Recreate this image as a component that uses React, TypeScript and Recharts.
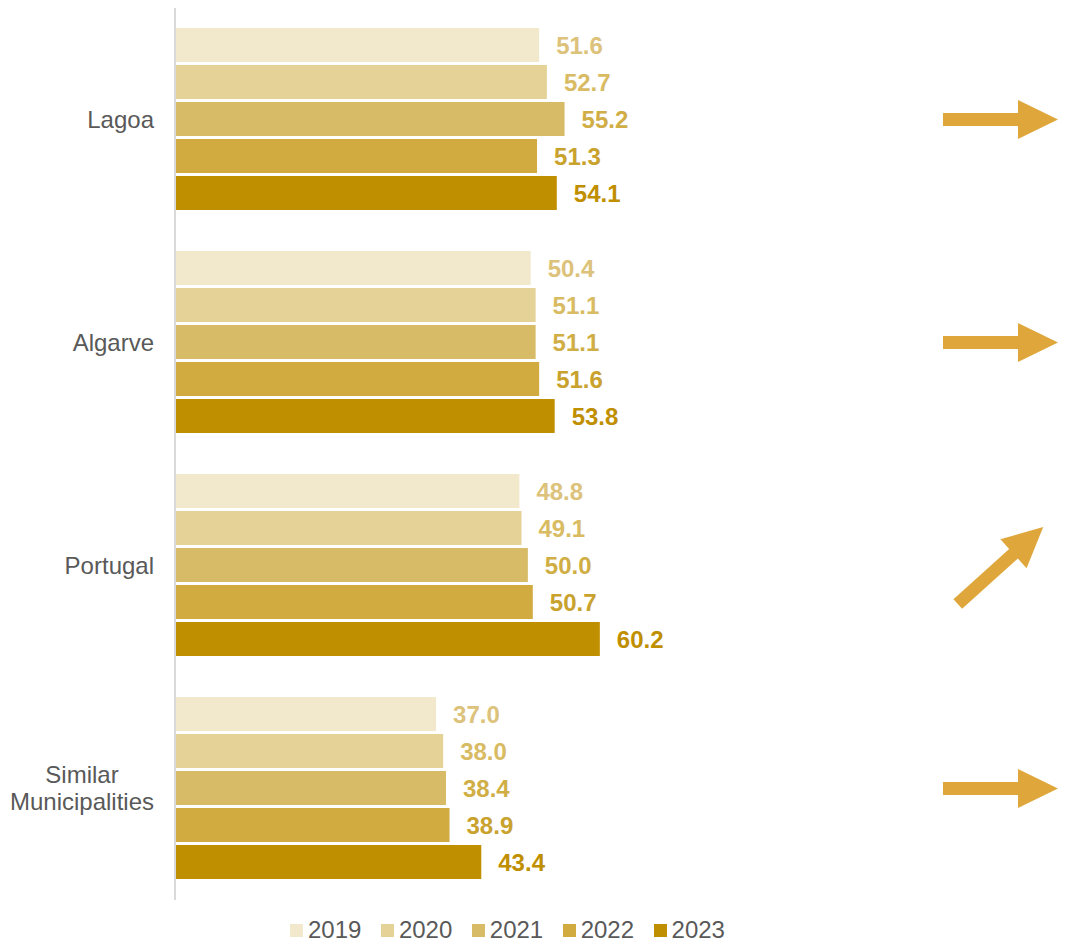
import React from "react";
import { BarChart, Bar, XAxis, YAxis, LabelList, Legend } from "recharts";

const categories = ["Lagoa", "Algarve", "Portugal", "Similar Municipalities"];
const years = ["2019", "2020", "2021", "2022", "2023"];
const v2019 = [51.6, 50.4, 48.8, 37.0];
const v2020 = [52.7, 51.1, 49.1, 38.0];
const v2021 = [55.2, 51.1, 50.0, 38.4];
const v2022 = [51.3, 51.6, 50.7, 38.9];
const v2023 = [54.1, 53.8, 60.2, 43.4];
const trends = ["flat", "flat", "up", "flat"];

const barColors = ["#F2E8CC", "#E5D296", "#D8BB66", "#D1AA40", "#C08F00"];
const labelColors = ["#DCC27A", "#D8BB62", "#D0AE45", "#C9A22E", "#BF8F00"];
const arrowColor = "#DFA73B";
const textGray = "#595959";
const FONT = "Arial, 'Liberation Sans', sans-serif";

const seriesValues = [v2019, v2020, v2021, v2022, v2023];
const data = categories.map((c, i) => {
  const row: any = { name: c, trend: trends[i] };
  years.forEach((y, k) => (row[y] = seriesValues[k][i]));
  return row;
});

const CategoryTick = (props: any) => {
  const { x, y, payload } = props;
  const text: string = payload.value;
  const lines = text.split(" ");
  if (lines.length === 1) {
    return (
      <text x={x - 21} y={y} dy="0.35em" textAnchor="end" fill={textGray} fontSize={24} fontFamily={FONT}>
        {text}
      </text>
    );
  }
  const lh = 27;
  const startY = y - ((lines.length - 1) * lh) / 2;
  return (
    <text x={x - 93} y={startY} textAnchor="middle" fill={textGray} fontSize={24} fontFamily={FONT}>
      {lines.map((l, i) => (
        <tspan key={i} x={x - 93} y={startY + i * lh} dy="0.35em">
          {l}
        </tspan>
      ))}
    </text>
  );
};

const ArrowTick = (props: any) => {
  const { x, y, index } = props;
  const trend = trends[index];
  const cx = x + 331.5;
  const angle = trend === "up" ? -42 : trend === "down" ? 42 : 0;
  const d = "M -57.5 -6.5 L 17.5 -6.5 L 17.5 -19.5 L 57.5 0 L 17.5 19.5 L 17.5 6.5 L -57.5 6.5 Z";
  return <path d={d} fill={arrowColor} transform={`translate(${cx},${y}) rotate(${angle})`} />;
};

const LegendContent = () => (
  <div style={{ display: "flex", marginLeft: 282, paddingTop: 17, fontFamily: FONT, fontSize: 24, color: textGray }}>
    {years.map((y, i) => (
      <div key={y} style={{ display: "flex", alignItems: "center", marginRight: 19.5, lineHeight: "26px" }}>
        <span style={{ display: "inline-block", width: 13, height: 13, background: barColors[i], marginRight: 5 }} />
        <span>{y}</span>
      </div>
    ))}
  </div>
);

export default function App() {
  return (
    <div style={{ width: 1056, height: 933 }}>
      <BarChart
        width={1056}
        height={933}
        data={data}
        layout="vertical"
        margin={{ top: 0, right: 0, bottom: 0, left: 0 }}
        barCategoryGap="9%"
        barGap={3}
      >
        <XAxis type="number" domain={[0, 70]} hide />
        <YAxis
          yAxisId="left"
          type="category"
          dataKey="name"
          width={167}
          tickLine={false}
          tickSize={0}
          tickMargin={0}
          axisLine={{ stroke: "#D9D9D9", strokeWidth: 2 }}
          tick={<CategoryTick />}
          interval={0}
        />
        <YAxis
          yAxisId="right"
          orientation="right"
          type="category"
          dataKey="name"
          width={395}
          tickLine={false}
          tickSize={0}
          tickMargin={0}
          axisLine={false}
          tick={<ArrowTick />}
          interval={0}
        />
        <Legend verticalAlign="bottom" height={41} content={<LegendContent />} wrapperStyle={{ left: 0, width: 1056 }} />
        {years.map((y, i) => (
          <Bar key={y} dataKey={y} yAxisId="left" fill={barColors[i]} isAnimationActive={false}>
            <LabelList
              dataKey={y}
              position="right"
              offset={17}
              fill={labelColors[i]}
              fontSize={24}
              fontWeight="bold"
              fontFamily={FONT}
              formatter={(v: any) => Number(v).toFixed(1)}
            />
          </Bar>
        ))}
      </BarChart>
    </div>
  );
}
